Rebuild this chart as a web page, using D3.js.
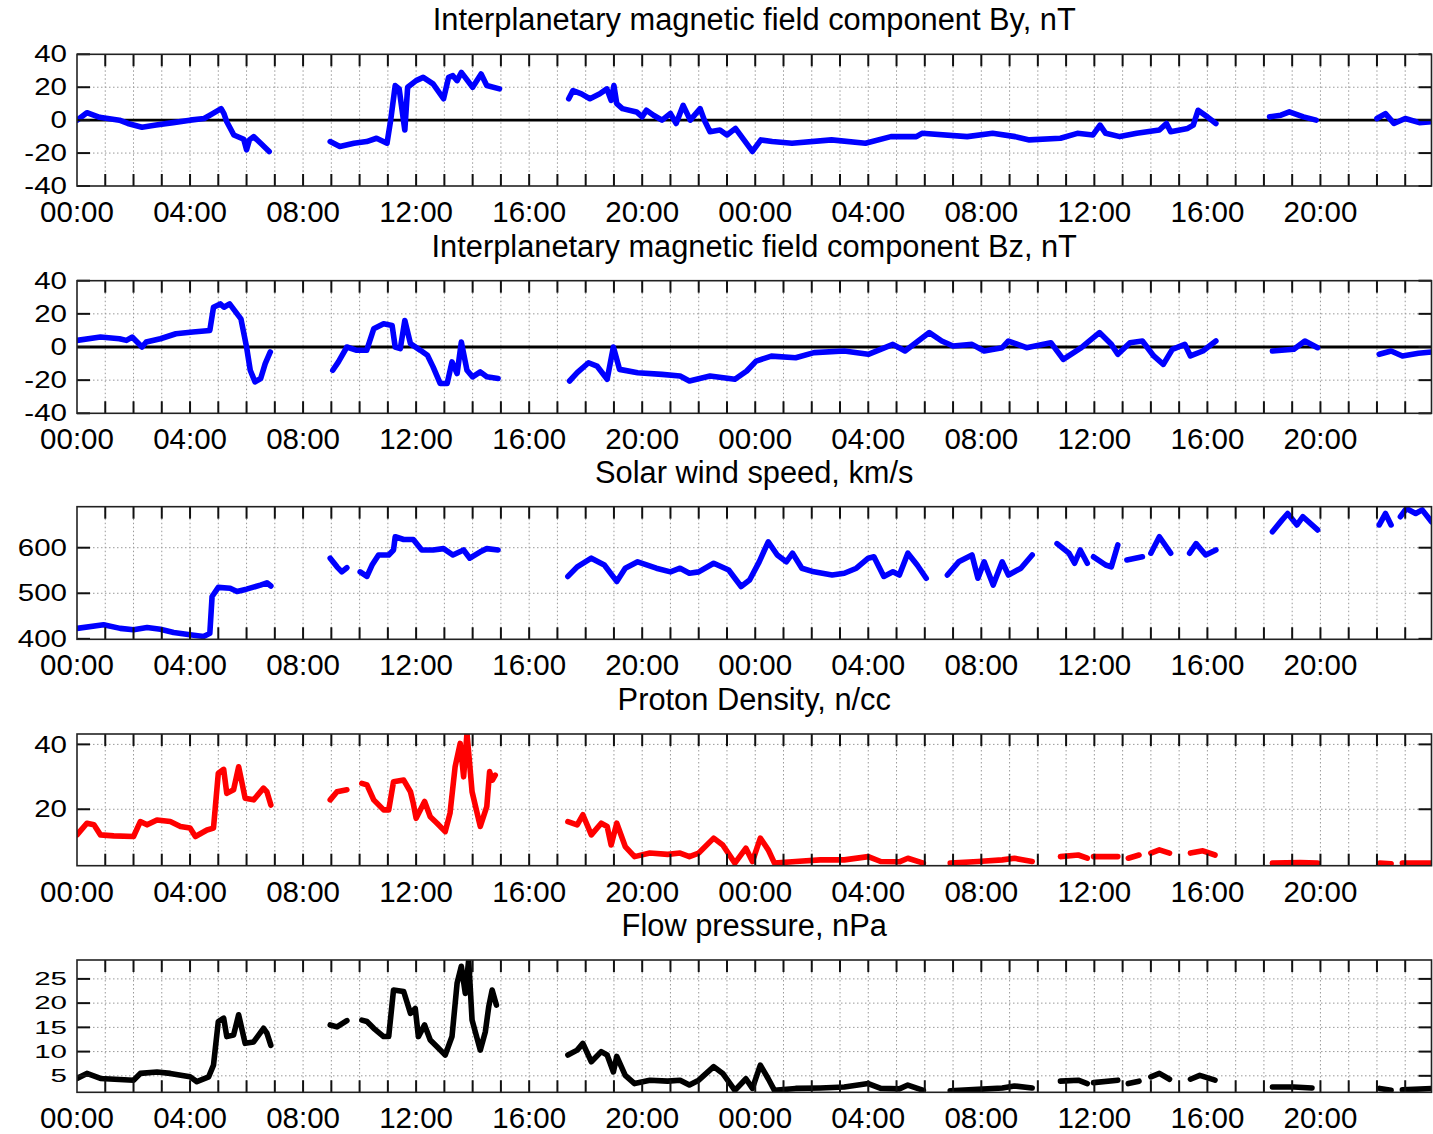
<!DOCTYPE html>
<html><head><meta charset="utf-8">
<script src="https://cdn.jsdelivr.net/npm/d3@7"></script>
<style>
body{margin:0;background:#fff}
svg{display:block}
text{font-family:"Liberation Sans",Arial,Helvetica,sans-serif;fill:#000}
</style>
</head><body>
<svg id="chart" width="1433" height="1134"></svg>
<script>
// ---------- DATA (hours since start, value); null = data gap ----------
const tickHours = d3.range(0, 48);
const labelHours = [0, 4, 8, 12, 16, 20, 24, 28, 32, 36, 40, 44];
const hourLabels = ["00:00","04:00","08:00","12:00","16:00","20:00","00:00","04:00","08:00","12:00","16:00","20:00"];

const byTicks = [-40, -20, 0, 20, 40];
const bzTicks = [-40, -20, 0, 20, 40];
const speedTicks = [400, 500, 600];
const densityTicks = [20, 40];
const pressureTicks = [5, 10, 15, 20, 25];

const byData = [
  [0,0],[0.35,4.5],[0.8,1.7],[1.5,0],[1.8,-2],[2.3,-4.3],[2.8,-3],[3.4,-1.5],[4.0,0],[4.5,1],[4.8,4],[5.1,7],[5.2,4],[5.3,-1],[5.55,-9],[5.9,-11.6],[6.0,-18],[6.1,-12],[6.25,-10],[6.5,-14],[6.8,-19],
  null,
  [8.96,-13],[9.3,-16],[9.8,-14],[10.25,-13],[10.6,-11],[10.97,-14],[11.1,0],[11.26,21],[11.4,19],[11.6,-6],[11.7,20],[12.0,24],[12.25,26],[12.6,22],[12.97,13],[13.15,26],[13.3,27],[13.45,24],[13.6,29],[14.0,20],[14.3,28],[14.5,21],[14.95,19],
  null,
  [17.4,13],[17.55,18],[17.85,16],[18.15,13],[18.5,16],[18.75,19],[18.9,12],[19.0,21],[19.1,10],[19.3,7],[19.8,5],[20.0,2],[20.15,6],[20.4,3],[20.7,0],[21.0,4],[21.2,-2],[21.45,9],[21.7,0],[22.05,7],[22.2,0],[22.4,-7],[22.75,-6],[23.0,-9],[23.3,-5],[23.6,-12],[23.9,-19],[24.2,-12],[24.6,-13],[25.3,-14],[26.7,-12],[27.9,-14],[28.8,-10],[29.7,-10],[29.9,-8],[31.5,-10],[32.4,-8],[33.2,-10],[33.7,-12],[34.8,-11],[35.4,-8],[35.95,-9],[36.2,-3],[36.4,-8],[36.9,-10],[37.5,-8],[38.3,-6],[38.55,-2],[38.7,-7],[39.3,-5],[39.5,-3],[39.67,6],[40.0,2],[40.3,-2],
  null,
  [42.2,2],[42.6,3],[42.9,5],[43.4,2],[43.85,0],
  null,
  [46.0,1],[46.3,4],[46.6,-2],[47.0,1],[47.5,-1.5],[47.93,-1]
];

const bzData = [
  [0,4],[0.83,6],[1.5,5],[1.75,4],[1.95,6],[2.3,0],[2.45,3],[2.95,5],[3.5,8],[4.1,9],[4.7,10],[4.83,24],[5.07,26],[5.2,24],[5.4,26],[5.8,17],[6.0,0],[6.13,-14],[6.3,-21],[6.5,-19],[6.66,-10],[6.84,-3],
  null,
  [9.05,-14],[9.25,-9],[9.55,0],[9.9,-2],[10.25,-2],[10.5,11],[10.85,14],[11.15,13],[11.26,0],[11.44,-1],[11.6,16],[11.8,2],[12.15,-2],[12.4,-5],[12.6,-12],[12.85,-22],[13.1,-22],[13.27,-9],[13.45,-16],[13.6,3],[13.8,-14],[14.0,-18],[14.27,-15],[14.5,-18],[14.9,-19],
  null,
  [17.43,-20.5],[17.7,-15.5],[18.1,-9.5],[18.4,-11.5],[18.76,-19.5],[18.98,0],[19.2,-13.5],[19.84,-15.5],[20.7,-16.5],[21.34,-17.5],[21.67,-20.5],[22.4,-17.5],[23.28,-19.5],[23.7,-14.5],[24.03,-8.5],[24.57,-5.5],[25.43,-6.5],[26.08,-3.4],[27.15,-2.4],[28.0,-4.4],[28.87,1.6],[29.3,-2.4],[30.16,8.7],[30.6,3.6],[31.0,0.6],[31.67,1.6],[32.1,-2.4],[32.74,-0.4],[32.96,3.6],[33.6,-0.4],[34.46,2.6],[34.9,-7.5],[35.54,-0.4],[35.75,2.6],[36.18,8.7],[36.6,1.6],[36.83,-4.4],[37.26,2.6],[37.7,3.6],[38.1,-5.4],[38.44,-10.5],[38.76,-1.4],[39.2,1.6],[39.4,-5.4],[39.84,-2.4],[40.3,3.6],
  null,
  [42.3,-2.4],[43.06,-1.4],[43.45,3.6],[43.9,-0.4],
  null,
  [46.08,-4.4],[46.5,-2.4],[46.9,-5.4],[47.47,-3.8],[47.93,-3]
];

const speedData = [
  [0,423],[0.94,431],[1.53,423],[2.0,420],[2.48,425],[2.95,421],[3.42,414],[4.0,409],[4.48,405],[4.7,412],[4.78,493],[5.0,513],[5.42,511],[5.66,504],[6.0,509],[6.49,518],[6.72,523],[6.86,516],
  null,
  [8.96,577],[9.2,558],[9.37,547],[9.55,556],
  null,
  [10.02,547],[10.26,537],[10.44,562],[10.67,584],[11.03,584],[11.2,595],[11.26,624],[11.56,618],[11.9,618],[12.2,595],[12.6,595],[12.97,598],[13.3,584],[13.68,595],[13.9,577],[14.27,591],[14.5,598],[14.9,595],
  null,
  [17.37,537],[17.7,558],[18.2,577],[18.66,562],[19.1,526],[19.4,555],[19.84,569],[20.5,555],[21.0,547],[21.34,555],[21.67,544],[22.0,547],[22.53,566],[23.06,551],[23.5,515],[23.8,529],[24.14,569],[24.46,613],[24.78,584],[25.1,569],[25.32,588],[25.65,555],[26.08,547],[26.72,540],[27.15,544],[27.58,555],[28.0,577],[28.2,580],[28.55,537],[28.87,547],[29.1,540],[29.4,588],[29.73,562],[30.05,533],
  null,
  [30.8,540],[31.2,569],[31.67,584],[31.88,533],[32.1,569],[32.42,518],[32.74,569],[32.96,540],[33.4,555],[33.8,584],
  null,
  [34.68,609],[35.1,588],[35.3,566],[35.5,595],[35.75,566],
  null,
  [35.97,580],[36.4,562],[36.6,558],[36.83,606],
  null,
  [37.15,573],[37.7,580],
  null,
  [38.0,588],[38.3,624],[38.7,588],
  null,
  [39.37,588],[39.6,609],[39.94,584],[40.3,595],
  null,
  [42.3,635],[42.63,660],[42.84,675],[43.17,650],[43.38,668],[43.9,639],
  null,
  [46.08,650],[46.3,675],[46.5,650],
  null,
  [46.83,668],[47.04,686],[47.37,675],[47.6,683],[47.93,657]
];

const densityData = [
  [0,12.1],[0.35,15.7],[0.6,15.2],[0.83,12.1],[1.3,11.8],[2.0,11.6],[2.24,16.2],[2.48,15.2],[2.83,16.7],[3.3,16.2],[3.66,14.7],[4.0,14.2],[4.19,11.6],[4.6,13.6],[4.83,14.2],[5.0,31.1],[5.19,32.3],[5.3,24.9],[5.54,26],[5.72,33.1],[5.95,23.4],[6.25,22.9],[6.6,26.5],[6.72,25.4],[6.86,21.3],
  null,
  [8.96,22.9],[9.2,25.4],[9.55,26],
  null,
  [10.08,28],[10.26,27.5],[10.5,22.9],[10.85,19.8],[11.03,19.8],[11.2,28.5],[11.56,29],[11.8,25.4],[11.9,21.8],[12.0,17.2],[12.3,22.4],[12.5,17.7],[12.74,15.7],[13.03,13.1],[13.2,18.8],[13.38,33.1],[13.56,40.3],[13.68,30],[13.8,43.4],[13.98,25.4],[14.27,14.7],[14.5,20.8],[14.6,31.6],[14.7,29],[14.8,30.5],
  null,
  [17.37,16.2],[17.7,15.2],[17.9,18.3],[18.2,12.1],[18.55,15.7],[18.76,14.7],[18.9,9],[19.1,15.7],[19.4,8.5],[19.73,5.4],[20.27,6.5],[20.9,6.1],[21.34,6.5],[21.67,5.4],[22.0,6.5],[22.53,11.1],[22.85,9],[23.28,3.4],[23.67,8],[23.9,3.9],[24.18,11.1],[24.46,7.5],[24.68,3.4],[25.43,3.9],[26.3,4.4],[27.15,4.4],[28.0,5.4],[28.44,3.9],[29.1,3.8],[29.4,4.9],[29.95,3.4],
  null,
  [30.9,3.4],[31.88,3.9],[32.74,4.4],[33.17,4.9],[33.8,3.9],
  null,
  [34.8,5.4],[35.43,5.9],[35.75,4.9],
  null,
  [35.97,5.4],[36.83,5.4],
  null,
  [37.2,4.9],[37.58,5.9],
  null,
  [38.0,6.5],[38.3,7.5],[38.66,6.5],
  null,
  [39.4,6.5],[39.84,7.2],[40.27,5.9],
  null,
  [42.3,3.4],[43.28,3.6],[43.9,3.4],
  null,
  [46.1,3.4],[46.5,3.2],
  null,
  [46.9,3.4],[47.93,3.4]
];

const pressureData = [
  [0,4.45],[0.35,5.5],[0.83,4.45],[2.0,4.1],[2.24,5.5],[2.83,5.8],[3.3,5.5],[4.0,4.8],[4.24,3.8],[4.66,4.8],[4.83,7.2],[5.0,16.2],[5.19,16.9],[5.3,13.1],[5.54,13.4],[5.72,17.6],[5.95,11.7],[6.25,12],[6.6,14.8],[6.72,13.8],[6.86,11.3],
  null,
  [8.96,15.5],[9.2,15.1],[9.55,16.4],
  null,
  [10.08,16.5],[10.26,16.2],[10.5,14.8],[10.85,13.1],[11.03,13.1],[11.2,22.7],[11.56,22.4],[11.8,17.9],[11.97,18.9],[12.08,13.1],[12.3,15.5],[12.5,12.4],[12.74,11],[13.03,9.3],[13.27,13.1],[13.45,24.1],[13.6,27.6],[13.74,22],[13.86,28.9],[13.98,16.5],[14.27,10.3],[14.45,14.1],[14.57,19.3],[14.69,22.7],[14.84,19.6],
  null,
  [17.37,9.3],[17.7,10.3],[17.9,11.7],[18.2,7.9],[18.55,10],[18.76,9.3],[18.98,5.8],[19.1,9],[19.4,5.1],[19.73,3.4],[20.27,4.1],[20.9,3.9],[21.34,4.1],[21.67,3.1],[22.0,4.1],[22.53,6.9],[22.85,5.5],[23.28,2.0],[23.67,4.4],[23.9,2.4],[24.18,7.2],[24.46,4.4],[24.68,2.0],[25.43,2.4],[26.3,2.5],[27.15,2.7],[28.0,3.4],[28.44,2.4],[29.1,2.3],[29.4,3.1],[29.95,2.0],
  null,
  [30.9,1.9],[31.88,2.2],[32.74,2.5],[33.17,2.9],[33.8,2.5],
  null,
  [34.8,3.9],[35.43,4.1],[35.75,3.4],
  null,
  [35.97,3.6],[36.83,4.1],
  null,
  [37.2,3.4],[37.58,3.9],
  null,
  [38.0,4.8],[38.3,5.5],[38.66,4.3],
  null,
  [39.4,4.3],[39.73,5.1],[40.27,4.1],
  null,
  [42.3,2.7],[43.06,2.7],[43.7,2.5],
  null,
  [46.1,2.4],[46.5,2.0],
  null,
  [46.9,2.1],[47.93,2.4]
];

// ---------- LAYOUT ----------
const svg = d3.select("#chart");
const left = 77, right = 1431.5;
const x = d3.scaleLinear().domain([0, 47.93]).range([left, right]);

const panels = [
  {title:"Interplanetary magnetic field component By, nT", data:byData, color:"#0000ff", domain:[-40,40], ticks:byTicks, zero:true, top:54.3, bottom:186, sy:0.8},
  {title:"Interplanetary magnetic field component Bz, nT", data:bzData, color:"#0000ff", domain:[-40,40], ticks:bzTicks, zero:true, top:280.7, bottom:413.3, sy:0.8},
  {title:"Solar wind speed, km/s", data:speedData, color:"#0000ff", domain:[399,690], ticks:speedTicks, zero:false, top:506.7, bottom:639.3, sy:0.78},
  {title:"Proton Density, n/cc", data:densityData, color:"#ff0000", domain:[2.6,43.2], ticks:densityTicks, zero:false, top:734, bottom:865.7, sy:0.82},
  {title:"Flow pressure, nPa", data:pressureData, color:"#000000", domain:[1.6,28.9], ticks:pressureTicks, zero:false, top:960, bottom:1092.3, sy:0.62}
];

panels.forEach((p, i) => {
  const y = d3.scaleLinear().domain(p.domain).range([p.bottom, p.top]);
  const g = svg.append("g");

  const cid = "clip" + i;
  svg.append("clipPath").attr("id", cid).append("rect")
    .attr("x", left).attr("y", p.top).attr("width", right - left).attr("height", p.bottom - p.top);

  // grid
  g.append("g").selectAll("line").data(tickHours.filter(h => h > 0)).join("line")
    .attr("x1", d => x(d)).attr("x2", d => x(d)).attr("y1", p.top).attr("y2", p.bottom)
    .attr("stroke", "#999").attr("stroke-width", 1).attr("stroke-dasharray", "1.5,2.5");
  g.append("g").selectAll("line").data(p.ticks.filter(t => t !== 0 && y(t) > p.top + 1 && y(t) < p.bottom - 1)).join("line")
    .attr("x1", left).attr("x2", right).attr("y1", d => y(d)).attr("y2", d => y(d))
    .attr("stroke", "#999").attr("stroke-width", 1).attr("stroke-dasharray", "1.5,2.5");

  if (p.zero) {
    g.append("line").attr("x1", left).attr("x2", right).attr("y1", y(0)).attr("y2", y(0))
      .attr("stroke", "#000").attr("stroke-width", 2.8);
  }

  const line = d3.line().defined(d => d !== null).x(d => x(d[0])).y(d => y(d[1]));
  g.append("path").datum(p.data).attr("d", line)
    .attr("clip-path", `url(#${cid})`)
    .attr("fill", "none").attr("stroke", p.color).attr("stroke-width", 5.6)
    .attr("stroke-linejoin", "round").attr("stroke-linecap", "round");

  const tl = 12;
  g.append("g").selectAll("line").data(tickHours.filter(h => h > 0)).join("line")
    .attr("x1", d => x(d)).attr("x2", d => x(d)).attr("y1", p.bottom).attr("y2", p.bottom - tl)
    .attr("stroke", "#111").attr("stroke-width", 2);
  g.append("g").selectAll("line").data(tickHours.filter(h => h > 0)).join("line")
    .attr("x1", d => x(d)).attr("x2", d => x(d)).attr("y1", p.top).attr("y2", p.top + tl)
    .attr("stroke", "#111").attr("stroke-width", 2);

  g.append("g").selectAll("line").data(p.ticks).join("line")
    .attr("x1", left).attr("x2", left + 13).attr("y1", d => y(d)).attr("y2", d => y(d))
    .attr("stroke", "#111").attr("stroke-width", 2);
  g.append("g").selectAll("line").data(p.ticks).join("line")
    .attr("x1", right).attr("x2", right - 13).attr("y1", d => y(d)).attr("y2", d => y(d))
    .attr("stroke", "#111").attr("stroke-width", 2);

  g.append("rect").attr("x", left).attr("y", p.top).attr("width", right - left).attr("height", p.bottom - p.top)
    .attr("fill", "none").attr("stroke", "#222").attr("stroke-width", 1.6);

  g.append("g").selectAll("text").data(labelHours).join("text")
    .attr("x", d => x(d)).attr("y", p.bottom + 36)
    .attr("text-anchor", "middle").attr("font-size", 29.5)
    .text((d, k) => hourLabels[k]);

  g.append("g").selectAll("text").data(p.ticks).join("text")
    .attr("transform", d => `translate(67,${y(d)}) scale(1,${p.sy})`)
    .attr("dy", "0.34em")
    .attr("text-anchor", "end").attr("font-size", 29.5)
    .text(d => d);

  g.append("text").attr("x", (left + right) / 2).attr("y", p.top - 24)
    .attr("text-anchor", "middle").attr("font-size", 30.8)
    .text(p.title);
});
</script>
</body></html>
